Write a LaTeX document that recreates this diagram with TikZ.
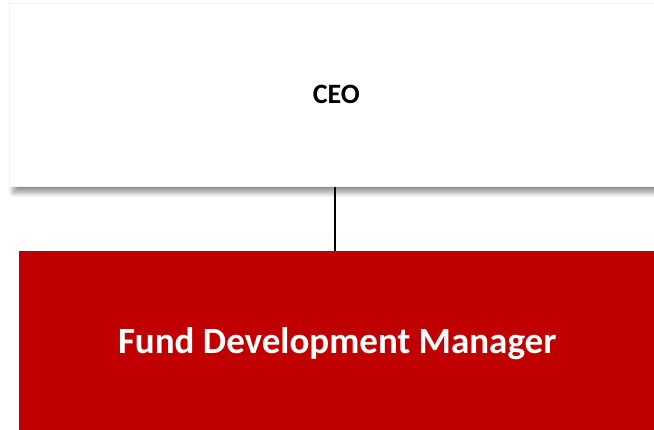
\documentclass[tikz,border=0pt]{standalone}
\usepackage{fontspec}
\setmainfont{Carlito}
\usetikzlibrary{shadows.blur}
\definecolor{fdmred}{HTML}{C00000}
\definecolor{edgegray}{HTML}{F2F2F2}
\begin{document}
\begin{tikzpicture}[x=1pt,y=-1pt,
  ceobox/.style={draw=edgegray, line width=0.8pt, fill=white, anchor=north west,
    minimum width=654pt, minimum height=183pt, inner sep=0pt,
    font=\fontsize{28}{33}\selectfont\bfseries,
    blur shadow={shadow xshift=4pt, shadow yshift=-6pt, shadow blur radius=5pt, shadow opacity=45, shadow blur steps=12}},
  fdmbox/.style={fill=fdmred, draw=none, anchor=north west, text=white,
    minimum width=636pt, minimum height=184pt, inner sep=0pt,
    font=\fontsize{37}{44}\selectfont\bfseries},
  link/.style={draw=black, line width=2.2pt}]
\useasboundingbox (0,0) rectangle (654,429);
\clip (0,0) rectangle (654,429);
\node[ceobox] (ceo) at (9,3) {CEO};
\node[fdmbox] (fdm) at (19,251) {Fund Development Manager};
\draw[link] (ceo.south -| 335,0) -- (fdm.north -| 335,0);
\end{tikzpicture}
\end{document}
